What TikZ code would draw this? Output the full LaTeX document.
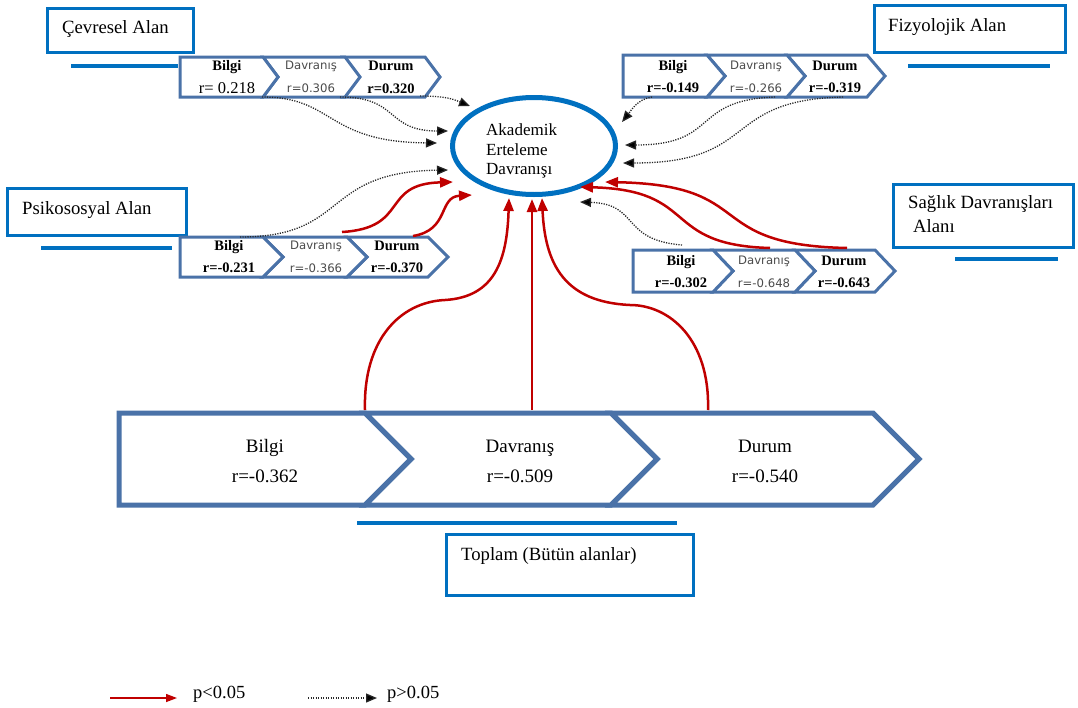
\documentclass[tikz,border=0pt]{standalone}
\usepackage{fontspec}
\setmainfont{Liberation Serif}
\newfontfamily\sansf{DejaVu Sans}
\usetikzlibrary{arrows.meta,shapes.geometric}
\definecolor{boxblue}{RGB}{0,112,192}
\definecolor{chevblue}{RGB}{74,114,168}
\definecolor{arred}{RGB}{192,0,0}
\definecolor{dgray}{RGB}{75,75,75}
% first chevron (flat left): left, flat end, depth, top, bottom, style
\newcommand{\chevF}[6]{\draw[#6] (#1,#4) -- (#2,#4) -- ({#2+#3},{(#4+#5)/2}) -- (#2,#5) -- (#1,#5) -- cycle;}
% notched chevron
\newcommand{\chevN}[6]{\draw[#6] (#1,#4) -- (#2,#4) -- ({#2+#3},{(#4+#5)/2}) -- (#2,#5) -- (#1,#5) -- ({#1+#3},{(#4+#5)/2}) -- cycle;}
\begin{document}
\begin{tikzpicture}[x=1pt,y=-1pt,
  smallchev/.style={draw=chevblue, line width=3pt, fill=white},
  bigchev/.style={draw=chevblue, line width=5pt, fill=white},
  lblbox/.style={draw=boxblue, line width=3pt, inner sep=0, fill=white},
  lbltext/.style={font=\fontsize{18.7}{21}\selectfont, inner sep=0, anchor=base west},
  uline/.style={draw=boxblue, line width=3.5pt},
  bt/.style={font=\fontsize{14.5}{16}\selectfont\bfseries, inner sep=0, anchor=base},
  rt/.style={font=\fontsize{16.5}{18}\selectfont, inner sep=0, anchor=base},
  st/.style={font=\sansf\fontsize{11.7}{13}\selectfont, text=dgray, inner sep=0, anchor=base},
  bigt/.style={font=\fontsize{19}{22}\selectfont, inner sep=0, anchor=base},
  elt/.style={font=\fontsize{17}{20}\selectfont, inner sep=0, anchor=base west},
  legt/.style={font=\fontsize{18.5}{20}\selectfont, inner sep=0, anchor=base west},
  redarr/.style={draw=arred, line width=2.5pt, -{Triangle[length=13pt,width=10pt]}},
  dotarr/.style={draw=black!85, line width=1.3pt, dash pattern=on 1.2pt off 1.3pt, -{Triangle[length=11pt,width=9pt,fill=black]}}
]
\useasboundingbox[fill=white] (0,0) rectangle (1078,707);

% ---------- ellipse ----------
\node[draw=boxblue, line width=5pt, ellipse, minimum width=163pt, minimum height=97pt, inner sep=0] (ell) at (534,146) {};
\node[elt] (el1) at (486,135) {Akademik};
\node[elt] (el2) at (486,155) {Erteleme};
\node[elt] (el3) at (486,174) {Davranışı};

% ---------- Çevresel ----------
\node[lblbox, minimum width=146pt, minimum height=44pt] (cevbox) at (120.5,30.5) {};
\node[lbltext] (cevtxt) at (62,33) {Çevresel Alan};
\draw[uline] (71,66) -- (178,66);
\chevN{343}{425}{15}{57}{97}{smallchev}
\chevN{263}{345}{15}{57}{97}{smallchev}
\chevF{180}{263}{15}{57}{97}{smallchev}
\node[bt] (c1) at (227,70) {Bilgi};
\node[rt] (c1r) at (227,93) {r= 0.218};
\node[st] (c2) at (311,69) {Davranış};
\node[st] (c2r) at (311,92) {r=0.306};
\node[bt] (c3) at (391,70) {Durum};
\node[bt] (c3r) at (391,93) {r=0.320};

% ---------- Fizyolojik ----------
\node[lblbox, minimum width=191pt, minimum height=47pt] (fizbox) at (970,29) {};
\node[lbltext] (fiztxt) at (888,31) {Fizyolojik Alan};
\draw[uline] (908,66) -- (1050,66);
\chevN{787}{867}{18}{55}{97}{smallchev}
\chevN{707}{787}{18}{55}{97}{smallchev}
\chevF{623}{707}{18}{55}{97}{smallchev}
\node[bt] (f1) at (673,70) {Bilgi};
\node[bt] (f1r) at (673,92) {r=-0.149};
\node[st] (f2) at (756,69) {Davranış};
\node[st] (f2r) at (756,92) {r=-0.266};
\node[bt] (f3) at (835,70) {Durum};
\node[bt] (f3r) at (835,92) {r=-0.319};

% ---------- Psikososyal ----------
\node[lblbox, minimum width=179pt, minimum height=47pt] (psibox) at (97,212) {};
\node[lbltext] (psitxt) at (22,214) {Psikososyal Alan};
\draw[uline] (41,248) -- (172,248);
\chevN{347}{428}{20}{237}{277}{smallchev}
\chevN{263}{347}{20}{237}{277}{smallchev}
\chevF{180}{263}{20}{237}{277}{smallchev}
\node[bt] (p1) at (229,250) {Bilgi};
\node[bt] (p1r) at (229,272) {r=-0.231};
\node[st] (p2) at (316,249) {Davranış};
\node[st] (p2r) at (316,272) {r=-0.366};
\node[bt] (p3) at (397,250) {Durum};
\node[bt] (p3r) at (397,272) {r=-0.370};

% ---------- Sağlık ----------
\node[lblbox, minimum width=180pt, minimum height=63pt] (sagbox) at (983.5,216) {};
\node[lbltext] (sagtxt1) at (908,208) {Sağlık Davranışları};
\node[lbltext] (sagtxt2) at (913,232) {Alanı};
\draw[uline] (955,259) -- (1058,259);
\chevN{795}{875}{20}{250}{292}{smallchev}
\chevN{713}{795}{20}{250}{292}{smallchev}
\chevF{633}{713}{20}{250}{292}{smallchev}
\node[bt] (s1) at (681,265) {Bilgi};
\node[bt] (s1r) at (681,287) {r=-0.302};
\node[st] (s2) at (764,264) {Davranış};
\node[st] (s2r) at (764,287) {r=-0.648};
\node[bt] (s3) at (844,265) {Durum};
\node[bt] (s3r) at (844,287) {r=-0.643};

% ---------- big row ----------
\chevN{611}{873}{46}{413}{505}{bigchev}
\chevN{365}{611}{46}{413}{505}{bigchev}
\chevF{119}{365}{46}{413}{505}{bigchev}
\node[bigt] (b1) at (265,452) {Bilgi};
\node[bigt] (b1r) at (265,482) {r=-0.362};
\node[bigt] (b2) at (520,452) {Davranış};
\node[bigt] (b2r) at (520,482) {r=-0.509};
\node[bigt] (b3) at (765,452) {Durum};
\node[bigt] (b3r) at (765,482) {r=-0.540};
\draw[uline] (357,523) -- (677,523);
\node[lblbox, minimum width=247pt, minimum height=61pt] (topbox) at (570,565) {};
\node[lbltext] (toptxt) at (461,560) {Toplam (Bütün alanlar)};

% ---------- connector coordinates ----------
\coordinate (cS1) at (262,97);  \coordinate (cE1) at (437,143);
\coordinate (cS2) at (340,97);  \coordinate (cE2) at (448,131);
\coordinate (cS3) at (420,96);  \coordinate (cE3) at (470,106);
\coordinate (pS1) at (240,237); \coordinate (pE1) at (448,170);
\coordinate (pS2) at (342,232); \coordinate (pE2) at (453,182);
\coordinate (pS3) at (413,236); \coordinate (pE3) at (472,195);
\coordinate (fS1) at (652,97);  \coordinate (fE1) at (622,122);
\coordinate (fS2) at (775,97);  \coordinate (fE2) at (625,145);
\coordinate (fS3) at (843,97);  \coordinate (fE3) at (623,163);
\coordinate (sS1) at (682,245); \coordinate (sE1) at (580,202);
\coordinate (sS2) at (770,248); \coordinate (sE2) at (580,187);
\coordinate (sS3) at (847,248); \coordinate (sE3) at (605,182);
\coordinate (bS1) at (365,410); \coordinate (bE1) at (509,198);
\coordinate (bS2) at (532,410); \coordinate (bE2) at (532,199);
\coordinate (bS3) at (708,410); \coordinate (bE3) at (542,198);

% Çevresel
\draw[dotarr] (cS1) .. controls (335,97) and (325,142) .. (cE1);
\draw[dotarr] (cS2) .. controls (400,97) and (385,131) .. (cE2);
\draw[dotarr] (cS3) .. controls (448,96) and (455,100) .. (cE3);
% Psikososyal
\draw[dotarr] (pS1) .. controls (350,237) and (320,172) .. (pE1);
\draw[redarr] (pS2) .. controls (410,228) and (380,184) .. (pE2);
\draw[redarr] (pS3) .. controls (450,230) and (438,197) .. (pE3);
% Fizyolojik
\draw[dotarr] (fS1) .. controls (637,99) and (630,112) .. (fE1);
\draw[dotarr] (fS2) .. controls (690,100) and (720,145) .. (fE2);
\draw[dotarr] (fS3) .. controls (720,100) and (760,163) .. (fE3);
% Sağlık
\draw[dotarr] (sS1) .. controls (620,240) and (640,204) .. (sE1);
\draw[redarr] (sS2) .. controls (660,245) and (700,190) .. (sE2);
\draw[redarr] (sS3) .. controls (700,245) and (760,185) .. (sE3);
% big row
\draw[redarr] (bS1) .. controls (363,340) and (400,302) .. (445,300) .. controls (495,297) and (507,260) .. (bE1);
\draw[redarr] (bS2) -- (bE2);
\draw[redarr] (bS3) .. controls (710,340) and (670,305) .. (630,305) .. controls (565,302) and (545,265) .. (bE3);

% ---------- legend ----------
\coordinate (lr1) at (110,698); \coordinate (lr2) at (177,698);
\coordinate (ld1) at (308,698); \coordinate (ld2) at (377,698);
\draw[draw=arred, line width=1.3pt, -{Triangle[length=11pt,width=8pt]}] (lr1) -- (lr2);
\draw[dotarr] (ld1) -- (ld2);
\node[legt] (lg1) at (193,698) {p<0.05};
\node[legt] (lg2) at (387,698) {p>0.05};
\end{tikzpicture}
\end{document}
